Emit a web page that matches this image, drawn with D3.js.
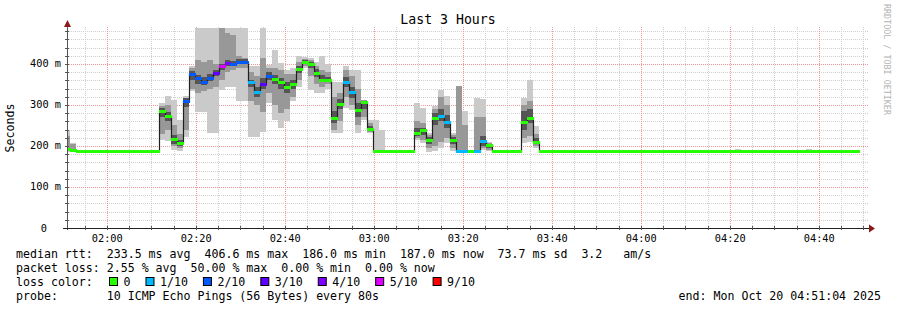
<!DOCTYPE html>
<html>
<head>
<meta charset="utf-8">
<script src="https://cdn.jsdelivr.net/npm/d3@7.9.0/dist/d3.min.js"></script>
<style>
  html, body { margin: 0; padding: 0; background: #fff; }
  svg text { font-family: "DejaVu Sans Mono", monospace; white-space: pre; }
</style>
</head>
<body>
<svg id="chart" width="897" height="310"></svg>
<script>
// --- data (80 s bins, 10 pings each) ---
const binSeconds = 80;
const firstBin = new Date(2025, 9, 20, 1, 50, 28);
const viewStart = new Date(2025, 9, 20, 1, 51, 4);
const viewEnd = new Date(2025, 9, 20, 4, 51, 4);

// median rtt in ms, one per bin
const medianMs = [
  193, 190, 187, 187, 187, 187, 187, 187, 187, 187, 187, 187, 187, 187, 187, 187,
  286, 272, 218, 207, 309, 376, 365, 357, 367, 377, 394, 402, 401, 406, 406, 355,
  331, 351, 371, 363, 357, 345, 352, 388, 406, 399, 378, 362, 362, 269, 303, 355,
  332, 288, 308, 241,
  187, 187, 187, 187, 187, 187, 187,
  231, 238, 214, 269, 272, 258, 215, 187, 187, 187, 189, 211, 202,
  187, 187, 188, 188, 187,
  258, 268, 210,
  187, 187, 187, 187, 187, 187, 187, 187, 187, 187, 187, 187, 187, 187, 187, 187, 187, 187,
  187, 187, 187, 187, 187, 187, 187, 187, 187, 187, 187, 187, 187, 187, 187, 187, 187, 187,
  187, 187, 187, 187, 187, 187, 187, 187, 187, 187, 187, 187, 187, 187, 187, 187, 187, 187
];

// lost pings (of 10), one per bin
const lostPings = [
  0, 0, 0, 0, 0, 0, 0, 0, 0, 0, 0, 0, 0, 0, 0, 0,
  0, 0, 0, 0, 2, 2, 2, 2, 2, 3, 5, 4, 2, 2, 2, 1,
  1, 3, 2, 0, 0, 0, 0, 0, 0, 0, 0, 0, 0, 0, 0, 1,
  1, 0, 0, 0,
  0, 0, 0, 0, 0, 0, 0,
  0, 0, 0, 0, 1, 1, 0, 1, 1, 0, 1, 1, 0,
  0, 0, 0, 0, 0,
  0, 0, 0,
  0, 0, 0, 0, 0, 0, 0, 0, 0, 0, 0, 0, 0, 0, 0, 0, 0, 0,
  0, 0, 0, 0, 0, 0, 0, 0, 0, 0, 0, 0, 0, 0, 0, 0, 0, 0,
  0, 0, 0, 0, 0, 0, 0, 0, 0, 0, 0, 0, 0, 0, 0, 0, 0, 0
];

// smoke bands [bin, low ms, high ms]
const smokeOuter = [
  [0,186,240],[1,186,208],[2,186,190],[5,186,190],[9,186,190],[10,186,190],[12,186,190],[13,186,191],
  [16,215,305],[17,211,323],[18,191,313],[19,187,264],[20,223,321],[21,333,394],[22,284,488],[23,284,488],
  [24,232,488],[25,232,488],[26,337,488],[27,345,488],[28,345,488],[29,309,488],[30,309,488],[31,223,394],
  [32,223,394],[33,235,488],[34,305,398],[35,264,435],[36,244,403],[37,260,386],[38,309,391],[39,345,419],
  [40,390,418],[41,337,415],[42,330,405],[43,330,420],[44,340,400],[45,232,357],[46,232,357],[47,293,394],
  [48,289,386],[49,232,386],[50,264,313],[51,232,264],[52,187,264],[53,187,240],[54,186,190],[55,186,190],
  [56,186,190],[59,215,305],[60,208,293],[61,186,232],[62,187,297],[63,196,337],[64,208,321],[65,187,232],
  [66,187,347],[67,187,286],[69,187,317],[70,190,315],[71,187,210],[72,186,190],[73,186,190],[74,186,191],
  [75,186,191],[77,208,317],[78,210,362],[79,195,248],[80,186,190],[81,186,190],[85,186,190],[86,186,190],
  [91,186,190],[94,186,190],[95,186,190],[96,186,190],[99,186,190],[100,186,190],[101,186,190],[109,186,190],
  [110,186,190],[112,186,190],[113,186,193],[122,186,190],[124,186,190],[125,186,192],[126,186,190],
  [128,186,190],[129,186,190],[130,186,190],[131,186,190],[132,186,190],[133,186,190]
];
const smokeMiddle = [
  [0,187,225],[1,187,206],
  [16,230,298],[17,240,300],[18,200,250],[19,195,230],[20,240,318],[21,340,390],[22,330,410],[23,335,405],
  [24,340,410],[25,345,400],[26,360,488],[27,380,476],[28,385,470],[29,390,420],[30,390,415],[31,310,380],
  [32,300,370],[33,284,415],[34,330,390],[35,300,390],[36,280,385],[37,290,375],[38,320,375],[39,360,405],
  [40,395,412],[41,370,410],[42,350,395],[43,345,385],[44,350,380],[45,240,320],[46,260,330],[47,320,385],
  [48,300,370],[49,250,340],[50,270,312],[51,235,255],
  [59,220,260],[60,215,255],[61,195,228],[62,200,290],[63,210,320],[64,220,300],[65,195,228],[66,187,347],
  [67,187,250],[69,187,271],[70,195,270],[71,190,208],
  [77,220,300],[78,225,310],[79,200,230],[91,187,190]
];
const smokeInner = [
  [16,270,292],[17,262,282],[18,205,228],[19,200,215],[20,295,316],[21,360,382],[22,352,372],[23,348,368],
  [24,358,375],[25,370,385],[26,385,400],[27,395,410],[28,395,408],[29,400,412],[30,400,412],[31,345,362],
  [32,320,345],[33,340,365],[34,360,380],[35,350,372],[36,340,365],[37,330,355],[38,340,360],[39,378,395],
  [40,400,410],[41,390,405],[42,368,388],[43,355,372],[44,355,368],[45,255,285],[46,290,315],[47,345,368],
  [48,318,345],[49,270,305],[50,290,310],[51,238,248],
  [59,225,245],[60,228,245],[61,205,222],[62,250,280],[63,260,290],[64,245,275],[65,205,222],[70,200,225],
  [71,195,206],[77,240,285],[78,255,290],[79,205,220]
];

const lossLevels = [0, 1, 2, 3, 4, 5, 9];
const lossLabels = ["0", "1/10", "2/10", "3/10", "4/10", "5/10", "9/10"];
const lossColors = ["#26ff00", "#00b8ff", "#0059ff", "#5e00ff", "#7e00ff", "#dd00ff", "#ff0000"];

const yTicksMs = [0, 100, 200, 300, 400];

const statLines = [
  "median rtt:  233.5 ms avg  406.6 ms max  186.0 ms min  187.0 ms now  73.7 ms sd  3.2   am/s",
  "packet loss: 2.55 % avg  50.00 % max  0.00 % min  0.00 % now"
];
const probeLine = "probe:       10 ICMP Echo Pings (56 Bytes) every 80s";
const endLine = "end: Mon Oct 20 04:51:04 2025";

// --- layout ---
const plot = { left: 67, right: 868, top: 27, bottom: 228 };
const svg = d3.select("#chart");

const x = d3.scaleTime().domain([viewStart, viewEnd]).range([plot.left, plot.right]);
const y = d3.scaleLinear().domain([0, 0.4878]).range([228, 28]);

const binStart = i => new Date(firstBin.getTime() + i * binSeconds * 1000);
const binEnd = i => binStart(i + 1);
const crisp = v => Math.round(v) + 0.5;

function lossColor(n) {
  let idx = 0;
  lossLevels.forEach((lv, i) => { if (n >= lv) idx = i; });
  return lossColors[idx];
}

// clip
svg.append("clipPath").attr("id", "plotclip")
  .append("rect")
  .attr("x", plot.left).attr("y", plot.top)
  .attr("width", plot.right - plot.left).attr("height", plot.bottom - plot.top);

// grid
const grid = svg.append("g");
const minorY = d3.range(1, 25).map(k => k * 0.02).filter(v => Math.abs(v * 10 - Math.round(v * 10)) > 1e-6);
grid.selectAll(".ymin").data(minorY).enter().append("line")
  .attr("x1", plot.left).attr("x2", plot.right)
  .attr("y1", d => crisp(y(d))).attr("y2", d => crisp(y(d)))
  .attr("stroke", "#cfcfcf").attr("stroke-dasharray", "1,1");
const minorX = d3.timeMinute.every(5).range(viewStart, viewEnd).filter(d => d.getMinutes() % 20 !== 0);
grid.selectAll(".xmin").data(minorX).enter().append("line")
  .attr("x1", d => crisp(x(d))).attr("x2", d => crisp(x(d)))
  .attr("y1", plot.top).attr("y2", plot.bottom)
  .attr("stroke", "#cfcfcf").attr("stroke-dasharray", "1,1");
grid.selectAll(".ymaj").data(yTicksMs.slice(1)).enter().append("line")
  .attr("x1", plot.left).attr("x2", plot.right)
  .attr("y1", d => crisp(y(d / 1000))).attr("y2", d => crisp(y(d / 1000)))
  .attr("stroke", "#f09494").attr("stroke-dasharray", "1,1");
const majorX = d3.timeMinute.every(20).range(viewStart, viewEnd);
grid.selectAll(".xmaj").data(majorX).enter().append("line")
  .attr("x1", d => crisp(x(d))).attr("x2", d => crisp(x(d)))
  .attr("y1", plot.top).attr("y2", plot.bottom)
  .attr("stroke", "#f09494").attr("stroke-dasharray", "1,1");

// smoke
const data = svg.append("g").attr("clip-path", "url(#plotclip)");
function smoke(bands, color) {
  data.append("g").selectAll("rect").data(bands).enter().append("rect")
    .attr("x", d => Math.round(x(binStart(d[0]))))
    .attr("width", d => Math.round(x(binEnd(d[0]))) - Math.round(x(binStart(d[0]))))
    .attr("y", d => Math.round(y(d[2] / 1000)))
    .attr("height", d => Math.max(1, Math.round(y(d[1] / 1000)) - Math.round(y(d[2] / 1000))))
    .attr("fill", color);
}
smoke(smokeOuter, "#cacaca");
smoke(smokeMiddle, "#989898");
smoke(smokeInner, "#555555");

// median step line
const pts = medianMs.map((v, i) => [binStart(i), v]);
pts.push([binEnd(medianMs.length - 1), medianMs[medianMs.length - 1]]);
const stepLine = d3.line()
  .x(d => Math.round(x(d[0])) + 0.5)
  .y(d => crisp(y(d[1] / 1000)))
  .curve(d3.curveStepAfter);
data.append("path").datum(pts)
  .attr("fill", "none").attr("stroke", "#202020").attr("stroke-width", 1.2)
  .attr("d", stepLine);

// loss coloured median marks
data.append("g").selectAll("rect").data(medianMs).enter().append("rect")
  .attr("x", (d, i) => Math.round(x(binStart(i))))
  .attr("width", (d, i) => Math.round(x(binEnd(i))) - Math.round(x(binStart(i))) + 1)
  .attr("y", d => Math.round(y(d / 1000)) - 1)
  .attr("height", 3)
  .attr("fill", (d, i) => lossColor(lostPings[i]));

// axes
const axes = svg.append("g");
axes.append("line").attr("x1", plot.left + 0.5).attr("x2", plot.left + 0.5)
  .attr("y1", 24).attr("y2", plot.bottom + 2).attr("stroke", "#555");
axes.append("line").attr("x1", 63).attr("x2", 871)
  .attr("y1", plot.bottom + 0.5).attr("y2", plot.bottom + 0.5).attr("stroke", "#222");
axes.selectAll(".yt").data(d3.range(1, 25).map(k => k * 0.02)).enter().append("line")
  .attr("x1", plot.left - 2).attr("x2", plot.left + 2)
  .attr("y1", d => crisp(y(d))).attr("y2", d => crisp(y(d))).attr("stroke", "#555");
axes.selectAll(".xt").data(d3.timeMinute.every(5).range(viewStart, viewEnd)).enter().append("line")
  .attr("x1", d => crisp(x(d))).attr("x2", d => crisp(x(d)))
  .attr("y1", plot.bottom - 2).attr("y2", plot.bottom + 2).attr("stroke", "#555");
axes.append("path").attr("d", "M64,27L71,27L67.5,20Z").attr("fill", "#8b1a1a");
axes.append("path").attr("d", "M869,224.5L869,232.5L875,228.5Z").attr("fill", "#8b1a1a");

// tick labels
svg.append("g").selectAll("text").data(yTicksMs).enter().append("text")
  .attr("x", d => d === 0 ? 47 : 61)
  .attr("y", d => y(d / 1000) + 3.5)
  .attr("text-anchor", "end")
  .attr("font-size", "10.3px").attr("fill", "#000")
  .text(d => d === 0 ? "0" : d + " m");
svg.append("g").selectAll("text").data(majorX).enter().append("text")
  .attr("x", d => x(d) + 0.5)
  .attr("y", 241.5)
  .attr("text-anchor", "middle")
  .attr("font-size", "10.3px").attr("fill", "#000")
  .text(d3.timeFormat("%H:%M"));

// titles
svg.append("text").attr("x", 448).attr("y", 24).attr("text-anchor", "middle")
  .attr("font-size", "13.2px").text("Last 3 Hours");
svg.append("text").attr("transform", "translate(14,128) rotate(-90)")
  .attr("text-anchor", "middle").attr("font-size", "11.6px").text("Seconds");
svg.append("text").attr("transform", "translate(884,4) rotate(90)")
  .attr("font-size", "8.4px").attr("fill", "#b4b4b4").text("RRDTOOL / TOBI OETIKER");

// legend
const legend = svg.append("g").attr("font-size", "11.6px").attr("fill", "#000");
statLines.forEach((s, i) => legend.append("text").attr("x", 16).attr("y", 258 + i * 14).text(s));
legend.append("text").attr("x", 16).attr("y", 286).text("loss color:");
let lx = 109;
lossLabels.forEach((lab, i) => {
  legend.append("rect").attr("x", lx + 0.5).attr("y", 277.5).attr("width", 8).attr("height", 8)
    .attr("fill", lossColors[i]).attr("stroke", "#000");
  const t = legend.append("text").attr("x", lx + 14.5).attr("y", 286).text(lab);
  lx = lx + 14.5 + t.node().getComputedTextLength() + 15;
});
legend.append("text").attr("x", 16).attr("y", 300).text(probeLine);
legend.append("text").attr("x", 881).attr("y", 300).attr("text-anchor", "end").text(endLine);
</script>
</body>
</html>
